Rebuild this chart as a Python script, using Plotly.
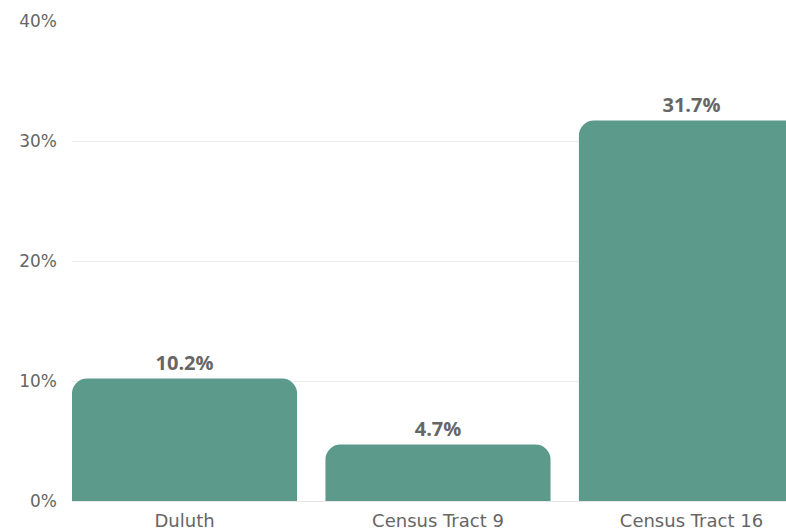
import plotly.graph_objects as go

categories = ["Duluth", "Census Tract 9", "Census Tract 16"]
values = [10.2, 4.7, 31.7]
tick_vals = [0, 10, 20, 30, 40]
tick_text = ["0%", "10%", "20%", "30%", "40%"]

fig = go.Figure(
    go.Bar(
        x=categories,
        y=values,
        marker=dict(color="#5c9a8b", line=dict(width=0)),
        width=0.888,
        text=[f"{v}%" for v in values],
        textposition="outside",
        textfont=dict(family="Open Sans", size=20, color="#666666", weight="bold"),
        cliponaxis=False,
        hoverinfo="skip",
    )
)

fig.update_layout(
    width=786,
    height=530,
    margin=dict(l=72, r=0, t=21, b=29),
    paper_bgcolor="white",
    plot_bgcolor="white",
    barcornerradius=15,
    showlegend=False,
    font=dict(family="DejaVu Sans", color="#666666"),
)

fig.update_xaxes(
    range=[-0.444, 2.373],
    showgrid=False,
    showline=False,
    zeroline=False,
    ticks="",
    ticklabelstandoff=7,
    tickfont=dict(family="DejaVu Sans", size=18, color="#666666"),
)

fig.update_yaxes(
    range=[0, 40],
    tickvals=tick_vals,
    ticktext=tick_text,
    showgrid=True,
    gridcolor="#ececec",
    gridwidth=1,
    zeroline=True,
    zerolinecolor="#e6e6e6",
    zerolinewidth=1,
    ticks="",
    ticklabelstandoff=14,
    tickfont=dict(family="DejaVu Sans", size=17, color="#666666"),
)

fig.write_html(
    "out.html",
    config={"displayModeBar": False},
    post_script="document.body.style.margin='0';document.body.style.overflow='hidden';",
)
